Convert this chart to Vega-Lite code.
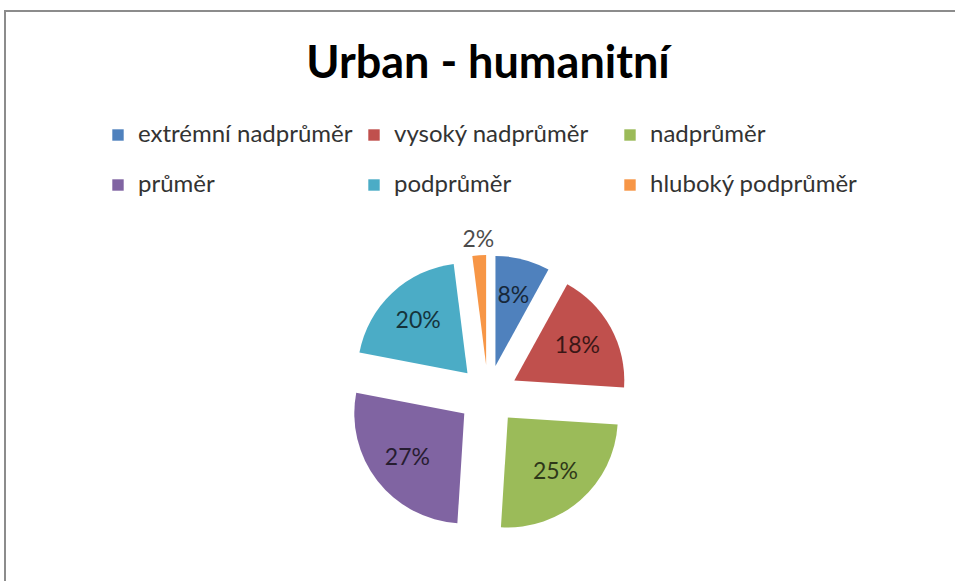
{
  "$schema": "https://vega.github.io/schema/vega-lite/v6.json",
  "width": 966,
  "height": 768,
  "autosize": {"type": "none"},
  "padding": {"left": 5, "top": 11, "right": -16, "bottom": -198},
  "background": "white",
  "view": {"stroke": "#8c8c8c", "strokeWidth": 2},
  "title": {
    "text": "Urban - humanitní",
    "font": "Lato",
    "fontSize": 45,
    "fontWeight": "bold",
    "color": "black",
    "anchor": "middle",
    "frame": "group",
    "orient": "top",
    "offset": 0,
    "baseline": "alphabetic",
    "dy": 112
  },
  "data": {
    "values": [
      {"order": 1, "category": "extrémní nadprůměr", "value": 0.08},
      {"order": 2, "category": "vysoký nadprůměr", "value": 0.18},
      {"order": 3, "category": "nadprůměr", "value": 0.25},
      {"order": 4, "category": "průměr", "value": 0.27},
      {"order": 5, "category": "podprůměr", "value": 0.20},
      {"order": 6, "category": "hluboký podprůměr", "value": 0.02}
    ]
  },
  "encoding": {
    "theta": {"field": "value", "type": "quantitative", "stack": true},
    "order": {"field": "order", "type": "quantitative"}
  },
  "layer": [
    {
      "mark": {
        "type": "arc",
        "radius": 110,
        "strokeWidth": 0,
        "xOffset": {"expr": "30*sin(scale('theta',(datum.value_start+datum.value_end)/2))"},
        "yOffset": {"expr": "-30*cos(scale('theta',(datum.value_start+datum.value_end)/2))"}
      },
      "encoding": {
        "color": {
          "field": "category",
          "type": "nominal",
          "scale": {
            "domain": ["extrémní nadprůměr", "vysoký nadprůměr", "nadprůměr", "průměr", "podprůměr", "hluboký podprůměr"],
            "range": ["#4F81BD", "#C0504D", "#9BBB59", "#8064A2", "#4BACC6", "#F79646"]
          },
          "legend": {
            "orient": "none",
            "legendX": 101,
            "legendY": 112,
            "direction": "horizontal",
            "columns": 3,
            "gridAlign": "all",
            "title": null,
            "symbolType": "square",
            "symbolSize": 130,
            "symbolStrokeWidth": 0,
            "labelFont": "Lato",
            "labelFontSize": 24,
            "labelColor": "#333333",
            "labelOffset": 8,
            "columnPadding": 9,
            "rowPadding": 26,
            "padding": 0,
            "labelLimit": 400
          }
        }
      }
    },
    {
      "mark": {
        "type": "text",
        "font": "Lato",
        "fontSize": 23,
        "color": "black",
        "opacity": 0.7,
        "radius": {"expr": "datum.value < 0.05 ? 155 : 102"}
      },
      "encoding": {
        "text": {"field": "value", "type": "quantitative", "format": ".0%"}
      }
    }
  ]
}
